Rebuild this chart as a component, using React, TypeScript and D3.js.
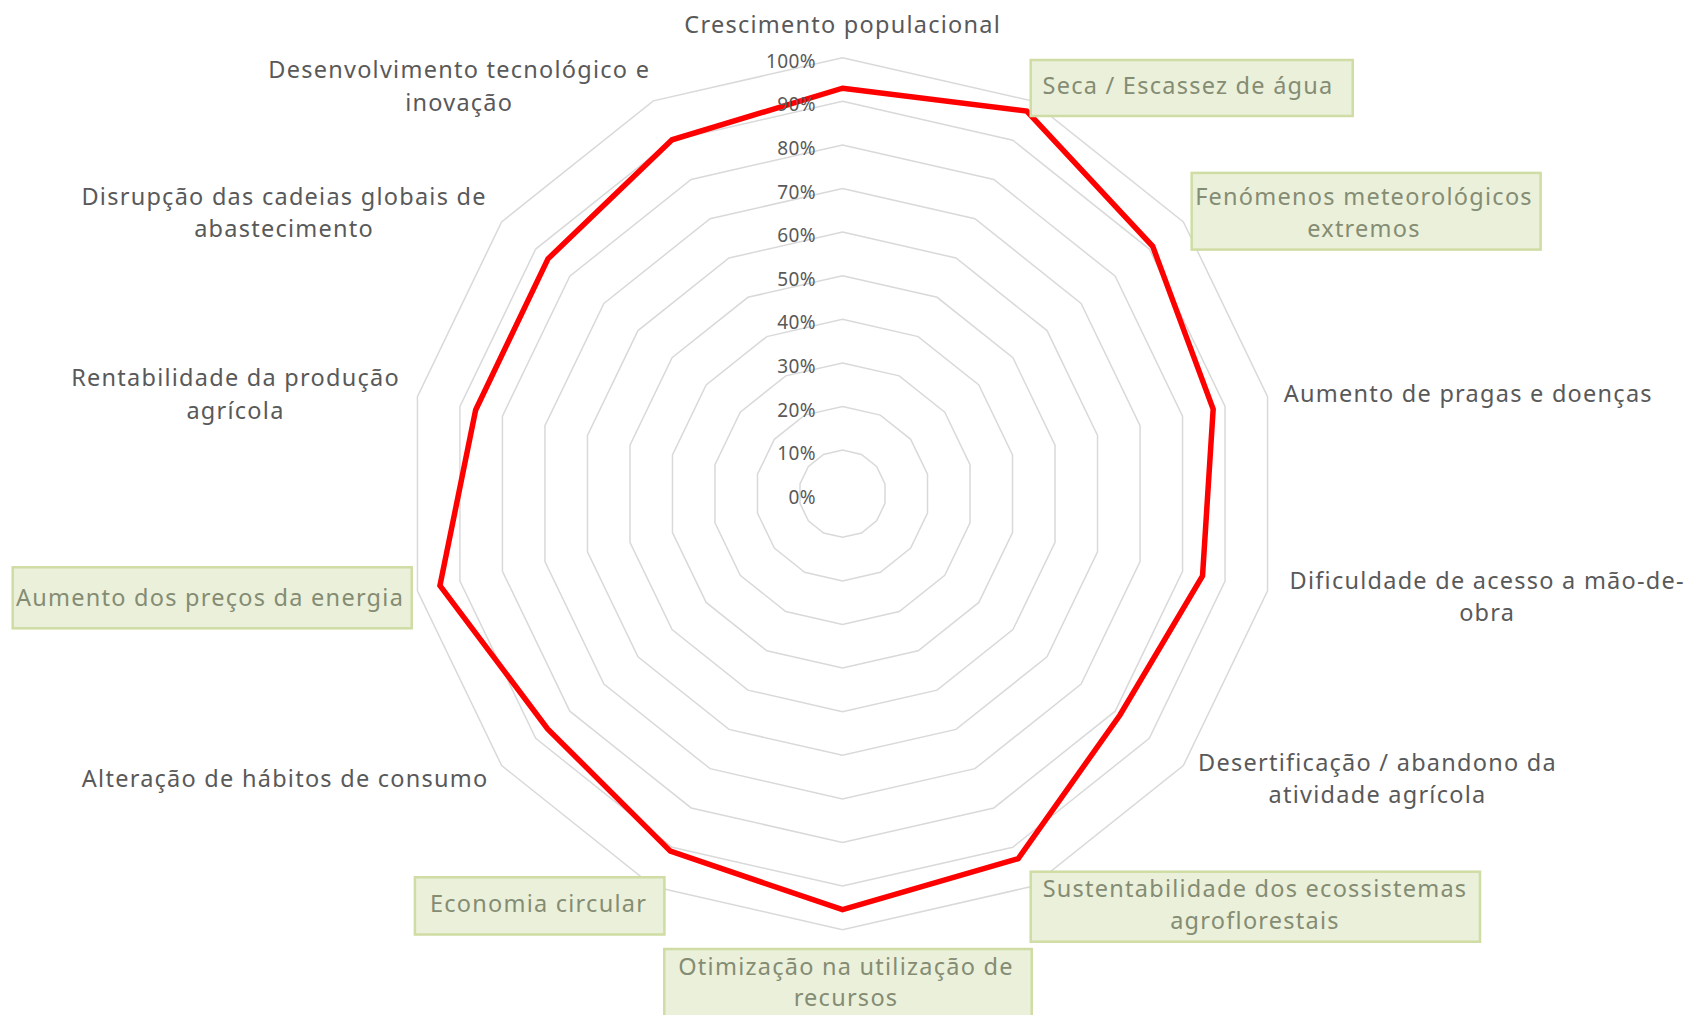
import { useEffect, useRef } from 'react';
import * as d3 from 'd3';

const CATEGORIES = [
  'Crescimento populacional',
  'Seca / Escassez de água',
  'Fenómenos meteorológicos extremos',
  'Aumento de pragas e doenças',
  'Dificuldade de acesso a mão-de-obra',
  'Desertificação / abandono da atividade agrícola',
  'Sustentabilidade dos ecossistemas agroflorestais',
  'Otimização na utilização de recursos',
  'Economia circular',
  'Alteração de hábitos de consumo',
  'Aumento dos preços da energia',
  'Rentabilidade da produção agrícola',
  'Disrupção das cadeias globais de abastecimento',
  'Desenvolvimento tecnológico e inovação',
];

const VALUES = [0.93, 0.974, 0.91, 0.872, 0.847, 0.814, 0.929, 0.954, 0.91, 0.865, 0.947, 0.863, 0.864, 0.901];

const HIGHLIGHTED = [false, true, true, false, false, false, true, true, true, false, true, false, false, false];

const TICKS = [0, 0.1, 0.2, 0.3, 0.4, 0.5, 0.6, 0.7, 0.8, 0.9, 1];

// label placement (wrapped lines, centre x, line centres y, optional box)
const LABEL_LAYOUT = [
  { lines: ['Crescimento populacional'], x: 842.7, y: [23.8] },
  { lines: ['Seca / Escassez de água'], x: 1188, y: [85.4], box: [1030.7, 60, 322, 56] },
  { lines: ['Fenómenos meteorológicos', 'extremos'], x: 1364, y: [195.6, 228], box: [1191.7, 172.9, 348.9, 76.7] },
  { lines: ['Aumento de pragas e doenças'], x: 1468.3, y: [393.3] },
  { lines: ['Dificuldade de acesso a mão-de-', 'obra'], x: 1487.2, y: [580.2, 611.5] },
  { lines: ['Desertificação / abandono da', 'atividade agrícola'], x: 1377.5, y: [761.7, 794.1] },
  { lines: ['Sustentabilidade dos ecossistemas', 'agroflorestais'], x: 1255, y: [888.3, 920], box: [1030.7, 871.7, 449.3, 70] },
  { lines: ['Otimização na utilização de', 'recursos'], x: 846, y: [966, 997.3], box: [664.3, 949, 367.4, 80] },
  { lines: ['Economia circular'], x: 538.5, y: [903.2], box: [414.9, 877.3, 249.5, 57.2] },
  { lines: ['Alteração de hábitos de consumo'], x: 285.2, y: [777.9] },
  { lines: ['Aumento dos preços da energia'], x: 210, y: [596.7], box: [12.7, 567.3, 399, 61] },
  { lines: ['Rentabilidade da produção', 'agrícola'], x: 235.5, y: [377, 409.5] },
  { lines: ['Disrupção das cadeias globais de', 'abastecimento'], x: 284.1, y: [195.6, 228] },
  { lines: ['Desenvolvimento tecnológico e', 'inovação'], x: 459.2, y: [69.1, 101.5] },
];

const W = 1694;
const H = 1015;
const CX = 842.5;
const CY = 493.7;
const R = 436;
const FONT = '"Noto Sans", "DejaVu Sans", sans-serif';

export default function App() {
  const ref = useRef<SVGSVGElement>(null);

  useEffect(() => {
    if (!ref.current) return;
    const svg = d3.select(ref.current);
    svg.selectAll('*').remove();

    svg.append('rect').attr('width', W).attr('height', H).attr('fill', '#ffffff');

    const n = CATEGORIES.length;
    const angle = d3.scaleLinear().domain([0, n]).range([0, 2 * Math.PI]);
    const rScale = d3.scaleLinear().domain([0, 1]).range([0, R]);

    const g = svg.append('g').attr('transform', `translate(${CX},${CY})`);

    // Grid rings
    const ringLine = d3.lineRadial<number>()
      .angle((_, i) => angle(i))
      .radius(d => rScale(d))
      .curve(d3.curveLinearClosed);

    TICKS.filter(t => t > 0).forEach(t => {
      g.append('path')
        .attr('d', ringLine(d3.range(n).map(() => t)))
        .attr('fill', 'none')
        .attr('stroke', '#d9d9d9')
        .attr('stroke-width', 1.5);
    });

    // Series
    g.append('path')
      .attr('d', ringLine(VALUES))
      .attr('fill', 'none')
      .attr('stroke', '#ff0000')
      .attr('stroke-width', 5.5)
      .attr('stroke-linejoin', 'miter');

    // Tick labels
    g.selectAll('text.tick')
      .data(TICKS)
      .join('text')
      .attr('class', 'tick')
      .attr('x', -26.5)
      .attr('y', d => -rScale(d) + 3)
      .attr('text-anchor', 'end')
      .attr('dominant-baseline', 'central')
      .attr('font-family', FONT)
      .attr('font-size', 19)
      .attr('letter-spacing', 0.4)
      .attr('fill', '#595959')
      .text(d => d3.format('.0%')(d));

    // Category labels
    LABEL_LAYOUT.forEach((lab, i) => {
      const hi = HIGHLIGHTED[i];
      if (hi && lab.box) {
        svg.append('rect')
          .attr('x', lab.box[0]).attr('y', lab.box[1])
          .attr('width', lab.box[2]).attr('height', lab.box[3])
          .attr('fill', '#ebf0da')
          .attr('stroke', '#cfdca3')
          .attr('stroke-width', 2.5);
      }
      lab.lines.forEach((line, j) => {
        svg.append('text')
          .attr('x', lab.x)
          .attr('y', lab.y[j])
          .attr('text-anchor', 'middle')
          .attr('dominant-baseline', 'central')
          .attr('font-family', FONT)
          .attr('font-size', 23.5)
          .attr('letter-spacing', 1.25)
          .attr('fill', hi ? '#848c73' : '#595959')
          .text(line);
      });
    });
  }, []);

  return (
    <svg
      ref={ref}
      width={W}
      height={H}
      style={{ position: 'fixed', left: 0, top: 0, display: 'block' }}
    />
  );
}
